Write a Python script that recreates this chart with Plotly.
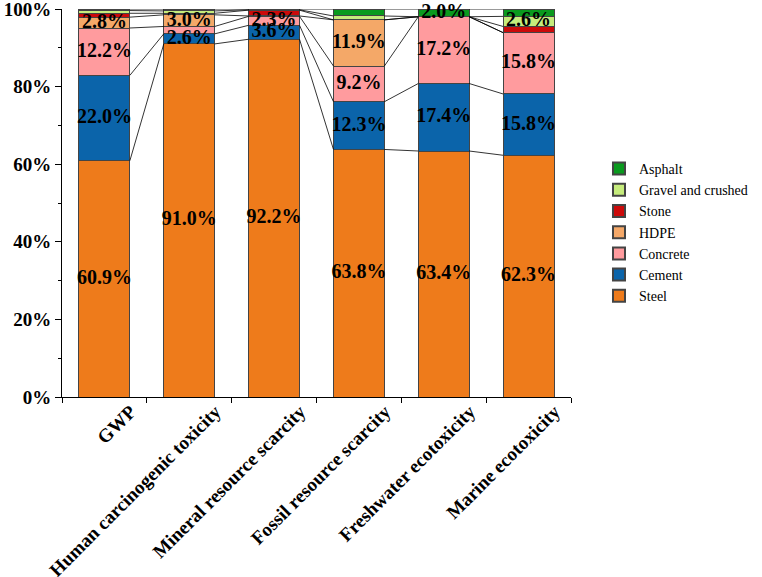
import plotly.graph_objects as go

categories = ["GWP", "Human carcinogenic toxicity", "Mineral resource scarcity",
              "Fossil resource scarcity", "Freshwater ecotoxicity", "Marine ecotoxicity"]

steel    = [60.9, 91.0, 92.2, 63.8, 63.4, 62.3]
cement   = [22.0, 2.6, 3.6, 12.3, 17.4, 15.8]
concrete = [12.2, 1.9, 2.3, 9.2, 17.2, 15.8]
hdpe     = [2.8, 3.0, 0.1, 11.9, 0.0, 0.0]
stone    = [1.0, 0.4, 1.5, 0.0, 0.0, 1.6]
gravel   = [0.7, 0.6, 0.1, 1.0, 0.0, 2.6]
asphalt  = [0.4, 0.5, 0.2, 1.8, 2.0, 1.9]

series_names = ["Steel", "Cement", "Concrete", "HDPE", "Stone", "Gravel and crushed", "Asphalt"]
series_vals = [steel, cement, concrete, hdpe, stone, gravel, asphalt]
series_colors = ["#EE7B1B", "#0B64AA", "#FF9B9E", "#F4A868", "#CC0A0A", "#C6EC7C", "#0A9A1E"]

yticks = [0, 20, 40, 60, 80, 100]
ytick_labels = ["0%", "20%", "40%", "60%", "80%", "100%"]
label_threshold = 2.0

FONT = "Liberation Serif"
fig = go.Figure()

for name, vals, col in zip(series_names, series_vals, series_colors):
    fig.add_trace(go.Bar(
        x=categories, y=vals, name=name, width=0.6,
        marker=dict(color=col, line=dict(color="#444444", width=1)),
    ))

# connector lines on overlay numeric axis
half = 0.3
n = len(categories)
cum = [0.0] * n
for vals in series_vals:
    cum = [c + v for c, v in zip(cum, vals)]
    xs, ys = [], []
    for i in range(n - 1):
        xs += [i + half, i + 1 - half, None]
        ys += [cum[i], cum[i + 1], None]
    fig.add_trace(go.Scatter(x=xs, y=ys, mode="lines", xaxis="x2",
                             line=dict(color="black", width=0.8),
                             showlegend=False, hoverinfo="skip"))

# segment labels
tx, ty, tt = [], [], []
base = [0.0] * n
for vals in series_vals:
    for i, v in enumerate(vals):
        if v >= label_threshold:
            tx.append(i)
            ty.append(base[i] + v / 2)
            tt.append(f"{v:.1f}%")
    base = [b + v for b, v in zip(base, vals)]
fig.add_trace(go.Scatter(x=tx, y=ty, text=tt, mode="text", xaxis="x2",
                         textfont=dict(family=FONT, size=20, color="black", weight="bold"),
                         showlegend=False, hoverinfo="skip", cliponaxis=False))

fig.update_layout(
    barmode="stack",
    width=762, height=577,
    margin=dict(l=62, r=176, t=9, b=180),
    plot_bgcolor="white", paper_bgcolor="white",
    font=dict(family=FONT, color="black"),
    xaxis=dict(type="category", range=[-0.5, 5.5], showline=True, linecolor="black", linewidth=1,
               ticks="outside", tickson="boundaries", ticklen=5, tickcolor="black",
               tickangle=-45, tickfont=dict(family=FONT, size=19, weight="bold"),
               ticklabelshift=26, ticklabelstandoff=-5, ticklabeloverflow="allow",
               automargin=False, showgrid=False),
    xaxis2=dict(overlaying="x", range=[-0.5, 5.5], visible=False),
    yaxis=dict(range=[0, 100], tickvals=yticks, ticktext=ytick_labels,
               showline=True, linecolor="black", linewidth=1, ticks="outside",
               ticklen=6, tickcolor="black", showgrid=False, zeroline=False,
               automargin=False, ticklabeloverflow="allow",
               tickfont=dict(family=FONT, size=19, weight="bold"),
               minor=dict(ticks="outside", ticklen=3, dtick=10, tickcolor="black")),
    legend=dict(x=1.055, y=0.424, xanchor="left", yanchor="middle", traceorder="reversed",
                font=dict(family=FONT, size=14), itemsizing="constant",
                tracegroupgap=0, bgcolor="rgba(0,0,0,0)"),
    bargap=0.4,
)

fig.write_html("out.html")
